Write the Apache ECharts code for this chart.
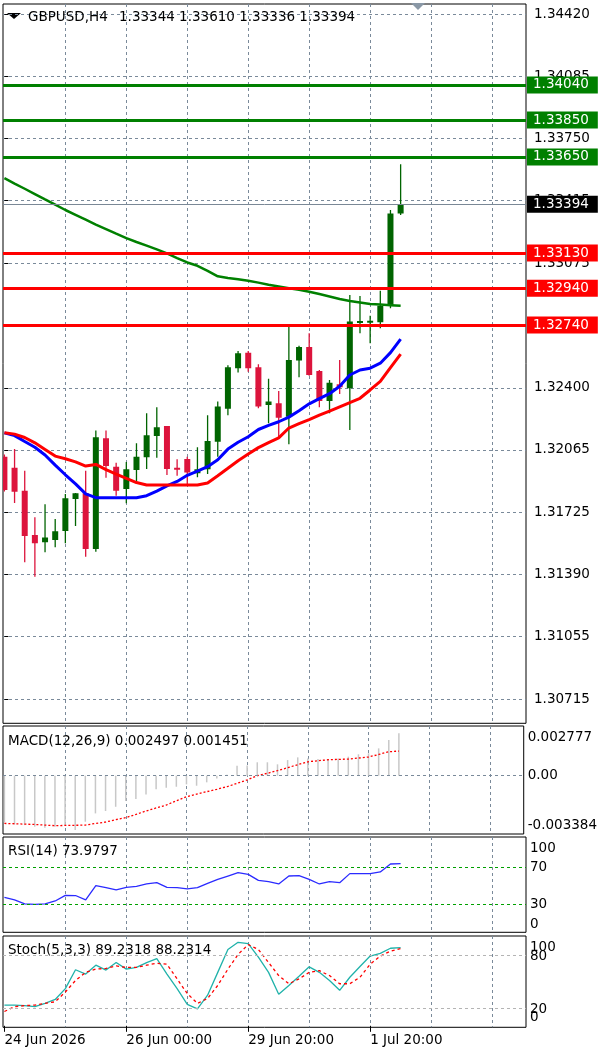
<!DOCTYPE html>
<html>
<head>
<meta charset="utf-8">
<title>GBPUSD,H4</title>
<script src="https://cdn.jsdelivr.net/npm/echarts@6.0.0/dist/echarts.min.js"></script>
<style>
html, body { margin: 0; padding: 0; background: #fff; }
#chart { width: 600px; height: 1050px; }
</style>
</head>
<body>
<div id="chart"></div>
<script>
const FONT = 'DejaVu Sans';
const FS = 13.5;

// H4 candles, one per bar index 0..39
const OPEN  = [1.32028, 1.31968, 1.31844, 1.31604, 1.31565, 1.31577, 1.31626, 1.31799, 1.31830, 1.31528,
               1.32128, 1.31974, 1.31853, 1.31956, 1.32025, 1.32140, 1.32194, 1.31968, 1.32016, 1.31938,
               1.31960, 1.32109, 1.32288, 1.32506, 1.32591, 1.32512, 1.32308, 1.32317, 1.32244, 1.32548,
               1.32622, 1.32492, 1.32329, 1.32420, 1.32398, 1.32757, 1.32760, 1.32755, 1.32845, 1.33344];
const HIGH  = [1.32040, 1.32070, 1.31952, 1.31700, 1.31770, 1.31691, 1.31826, 1.31832, 1.31952, 1.32169,
               1.32169, 1.31995, 1.31999, 1.32100, 1.32263, 1.32295, 1.32194, 1.32014, 1.32028, 1.32079,
               1.32252, 1.32326, 1.32523, 1.32600, 1.32600, 1.32528, 1.32450, 1.32383, 1.32746, 1.32629,
               1.32696, 1.32497, 1.32443, 1.32551, 1.32903, 1.32898, 1.32791, 1.32926, 1.33363, 1.33610];
const LOW   = [1.31840, 1.31777, 1.31456, 1.31378, 1.31511, 1.31538, 1.31559, 1.31653, 1.31487, 1.31514,
               1.31914, 1.31817, 1.31776, 1.31893, 1.31961, 1.32022, 1.31929, 1.31925, 1.31871, 1.31916,
               1.31934, 1.32028, 1.32252, 1.32483, 1.32488, 1.32290, 1.32209, 1.32133, 1.32095, 1.32458,
               1.32466, 1.32295, 1.32263, 1.32367, 1.32172, 1.32696, 1.32642, 1.32723, 1.32831, 1.33336];
const CLOSE = [1.31848, 1.31838, 1.31599, 1.31559, 1.31590, 1.31624, 1.31803, 1.31830, 1.31528, 1.32133,
               1.31978, 1.31844, 1.31960, 1.32028, 1.32144, 1.32187, 1.31961, 1.31958, 1.31943, 1.31960,
               1.32113, 1.32299, 1.32512, 1.32588, 1.32506, 1.32299, 1.32326, 1.32239, 1.32551, 1.32622,
               1.32470, 1.32329, 1.32428, 1.32404, 1.32759, 1.32762, 1.32764, 1.32845, 1.33344, 1.33394];

// moving averages
const MA_LONG = [1.33535, 1.33506, 1.33478, 1.33449, 1.33420, 1.33392, 1.33363, 1.33337, 1.33311, 1.33284,
                 1.33260, 1.33235, 1.33211, 1.33190, 1.33170, 1.33150, 1.33128, 1.33103, 1.33079, 1.33061,
                 1.33034, 1.33004, 1.32995, 1.32988, 1.32980, 1.32970, 1.32958, 1.32949, 1.32940, 1.32931,
                 1.32921, 1.32908, 1.32895, 1.32881, 1.32870, 1.32862, 1.32854, 1.32851, 1.32848, 1.32845];
const MA_FAST = [1.32157, 1.32142, 1.32110, 1.32079, 1.32037, 1.31982, 1.31930, 1.31881, 1.31827, 1.31806,
                 1.31806, 1.31806, 1.31806, 1.31806, 1.31817, 1.31842, 1.31870, 1.31894, 1.31927, 1.31950,
                 1.31974, 1.32011, 1.32069, 1.32106, 1.32136, 1.32175, 1.32197, 1.32217, 1.32242, 1.32277,
                 1.32314, 1.32342, 1.32369, 1.32409, 1.32470, 1.32497, 1.32507, 1.32534, 1.32591, 1.32664];
const MA_SLOW = [1.32158, 1.32150, 1.32132, 1.32103, 1.32067, 1.32031, 1.32017, 1.32000, 1.31977, 1.31986,
                 1.31958, 1.31934, 1.31911, 1.31888, 1.31875, 1.31875, 1.31875, 1.31875, 1.31875, 1.31875,
                 1.31886, 1.31925, 1.31965, 1.32006, 1.32042, 1.32077, 1.32104, 1.32130, 1.32183, 1.32207,
                 1.32229, 1.32253, 1.32275, 1.32298, 1.32321, 1.32344, 1.32389, 1.32435, 1.32510, 1.32583];

// horizontal levels
const LEVELS_GREEN = [1.34040, 1.33850, 1.33650];
const LEVELS_RED = [1.33130, 1.32940, 1.32740];
const BID = 1.33394;

// MACD(12,26,9)
const MACD_MAIN = [-0.00275, -0.00287, -0.00291, -0.00300, -0.00306, -0.00300, -0.00291, -0.00320, -0.00271, -0.00222,
                   -0.00208, -0.00183, -0.00149, -0.00137, -0.00110, -0.00080, -0.00071, -0.00065, -0.00051, -0.00059,
                   -0.00039, -0.00016, 0.00006, 0.00059, 0.00060, 0.00079, 0.00079, 0.00067, 0.00092, 0.00108,
                   0.00102, 0.00098, 0.00098, 0.00102, 0.00112, 0.00126, 0.00132, 0.00161, 0.00210, 0.002497];
const MACD_SIGNAL = [-0.00281, -0.00283, -0.00285, -0.00287, -0.00291, -0.00294, -0.00293, -0.00292, -0.00291, -0.00281,
                     -0.00273, -0.00259, -0.00247, -0.00228, -0.00208, -0.00190, -0.00173, -0.00148, -0.00124, -0.00109,
                     -0.00094, -0.00080, -0.00065, -0.00045, -0.00025, 0.00000, 0.00014, 0.00030, 0.00047, 0.00065,
                     0.00082, 0.00088, 0.00094, 0.00096, 0.00098, 0.00104, 0.00110, 0.00125, 0.00141, 0.001451];

// RSI(14)
const RSI = [37.6, 34.7, 30.4, 30.0, 30.4, 33.6, 39.7, 39.5, 34.7, 50.2,
             48.0, 45.5, 48.4, 49.5, 52.0, 53.4, 48.4, 48.0, 46.6, 48.0,
             52.7, 57.0, 60.6, 64.2, 62.4, 55.9, 54.5, 52.0, 60.6, 61.0,
             57.0, 52.0, 54.5, 53.4, 63.2, 63.2, 63.2, 65.0, 73.6, 73.98];

// Stoch(5,3,3)
const STOCH_MAIN = [23.7, 23.7, 23.0, 21.9, 25.6, 30.1, 42.4, 64.0, 59.1, 69.2,
                    63.6, 72.2, 64.7, 66.6, 72.2, 76.6, 59.1, 42.4, 24.5, 19.3,
                    34.9, 61.0, 87.1, 95.3, 93.8, 78.5, 61.0, 36.0, 46.1, 56.5,
                    67.3, 61.0, 51.7, 40.5, 55.4, 67.7, 79.6, 82.6, 88.5, 89.23];
const STOCH_SIGNAL = [16.3, 21.9, 23.0, 23.7, 25.6, 27.4, 38.6, 51.7, 61.0, 64.7,
                      65.5, 68.4, 66.6, 66.6, 69.2, 71.4, 70.3, 53.5, 36.8, 25.6,
                      31.2, 46.1, 64.7, 81.5, 92.7, 87.1, 72.2, 57.3, 48.0, 53.5,
                      61.0, 62.9, 57.3, 48.0, 48.0, 55.4, 70.3, 79.6, 85.2, 88.23];

// axis ticks and labels
const PRICE_TICKS = [1.30715, 1.31055, 1.31390, 1.31725, 1.32065, 1.32400, 1.32740, 1.33075, 1.33415, 1.33750, 1.34085, 1.34420];
const DAY_LINES = [6, 12, 18, 24, 30, 36, 42, 48];
const DATE_TICKS = [0, 12, 24, 36];
const DATE_LABELS = ['24 Jun 2026', '26 Jun 00:00', '29 Jun 20:00', '1 Jul 20:00'];
const MACD_LABEL_POS = [0.002238, 0, -0.002921];
const MACD_LABEL_TEXT = ['0.002777', '0.00', '-0.003384'];
const RSI_LABEL_POS = [90.5, 70, 30, 8.7];
const RSI_LABEL_TEXT = ['100', '70', '30', '0'];
// stoch labels overlap in pairs, so they sit on two axes
const STOCH_LABEL_POS_A = [89.6, 19];
const STOCH_LABEL_TEXT_A = ['100', '20'];
const STOCH_LABEL_POS_B = [79, 10];
const STOCH_LABEL_TEXT_B = ['80', '0'];

const BULL = '#006400';
const BEAR = '#dc143c';
const X_MIN = -0.138;
const X_MAX = 51.34;

const chart = echarts.init(document.getElementById('chart'), null, { renderer: 'canvas' });

const txt = { fontFamily: FONT, fontSize: FS, color: '#000' };
const gridLine = { show: true, lineStyle: { color: '#7a8a9a', type: [3, 3], width: 1 } };

const candles = OPEN.map((o, i) => [i, o, CLOSE[i], LOW[i], HIGH[i]]);
const pairs = arr => arr.map((v, i) => [i, v]);
const pick = (pos, text) => v => {
    const j = pos.findIndex(p => Math.abs(p - v) < 1e-9);
    return j < 0 ? '' : text[j];
};

function renderCandle(params, api) {
    const i = api.value(0);
    const o = api.value(1), c = api.value(2), l = api.value(3), h = api.value(4);
    const pO = api.coord([i, o]);
    const pC = api.coord([i, c]);
    const pL = api.coord([i, l]);
    const pH = api.coord([i, h]);
    const color = c >= o ? BULL : BEAR;
    const w = 6;
    const top = Math.min(pO[1], pC[1]);
    const bh = Math.max(Math.abs(pO[1] - pC[1]), 2);
    return {
        type: 'group',
        children: [
            { type: 'line', shape: { x1: pH[0], y1: pH[1], x2: pL[0], y2: pL[1] }, style: { stroke: color, lineWidth: 1.3 } },
            { type: 'rect', shape: { x: pO[0] - w / 2, y: top, width: w, height: bh }, style: { fill: color } }
        ]
    };
}

function renderHist(params, api) {
    const i = api.value(0);
    const p0 = api.coord([i, 0]);
    const p1 = api.coord([i, api.value(1)]);
    return { type: 'line', shape: { x1: p0[0], y1: p0[1], x2: p1[0], y2: p1[1] }, style: { stroke: '#c8c8c8', lineWidth: 1.5 } };
}

function boxLabel(bg) {
    return {
        show: true, position: 'end', distance: 1,
        formatter: p => Number(p.value).toFixed(5),
        color: '#fff', backgroundColor: bg,
        padding: [2, 9, 1, 6], lineHeight: 14,
        fontFamily: FONT, fontSize: FS
    };
}

function xAxisFor(g) {
    return {
        gridIndex: g, type: 'value', min: X_MIN, max: X_MAX,
        axisLine: { show: false },
        axisTick: { show: false, customValues: DAY_LINES },
        axisLabel: { show: false },
        splitLine: gridLine
    };
}

function sideAxis(g, min, max, pos, text) {
    return {
        gridIndex: g, type: 'value', position: 'right', min: min, max: max,
        axisLine: { show: false },
        axisTick: { show: false, customValues: pos },
        axisLabel: Object.assign({ customValues: pos, formatter: pick(pos, text), margin: 4, hideOverlap: false }, txt),
        splitLine: { show: false }
    };
}

const titleStyle = Object.assign({ fontWeight: 'normal', lineHeight: 14 }, txt);

const option = {
    animation: false,
    backgroundColor: '#fff',
    title: [
        { text: 'GBPUSD,H4', left: 28, top: 10, padding: 0, textStyle: titleStyle },
        { text: '1.33344 1.33610 1.33336 1.33394', left: 119, top: 10, padding: 0, textStyle: titleStyle },
        { text: 'MACD(12,26,9) 0.002497 0.001451', left: 8, top: 734, padding: 0, textStyle: titleStyle },
        { text: 'RSI(14) 73.9797', left: 8, top: 844, padding: 0, textStyle: titleStyle },
        { text: 'Stoch(5,3,3) 89.2318 88.2314', left: 8, top: 943, padding: 0, textStyle: titleStyle }
    ],
    graphic: [
        { type: 'polygon', shape: { points: [[7, 13], [21, 13], [14, 19]] }, style: { fill: '#000' } },
        { type: 'polygon', shape: { points: [[411, 3], [425, 3], [418, 10]] }, style: { fill: '#8a98a6' } }
    ],
    grid: [
        { left: 3, top: 4, width: 523, height: 719.3, show: true, borderColor: '#000', borderWidth: 1 },
        { left: 3, top: 726, width: 523, height: 108, show: true, borderColor: '#000', borderWidth: 1 },
        { left: 3, top: 837, width: 523, height: 95.3, show: true, borderColor: '#000', borderWidth: 1 },
        { left: 3, top: 936, width: 523, height: 91.3, show: true, borderColor: '#000', borderWidth: 1 }
    ],
    xAxis: [
        xAxisFor(0), xAxisFor(1), xAxisFor(2), xAxisFor(3),
        {
            gridIndex: 3, type: 'value', min: X_MIN, max: X_MAX, position: 'bottom',
            axisLine: { show: false },
            axisTick: { show: true, length: 6, customValues: DATE_TICKS, lineStyle: { color: '#000' } },
            axisLabel: Object.assign({ customValues: DATE_TICKS, formatter: pick(DATE_TICKS, DATE_LABELS), align: 'left', margin: 6 }, txt),
            splitLine: { show: false }
        }
    ],
    yAxis: [
        {
            gridIndex: 0, type: 'value', position: 'right', min: 1.305850, max: 1.344779,
            axisLine: { show: false },
            axisTick: { show: true, length: 4, customValues: PRICE_TICKS, lineStyle: { color: '#000' } },
            axisLabel: Object.assign({ customValues: PRICE_TICKS, formatter: v => v.toFixed(5), margin: 8 }, txt),
            splitLine: gridLine
        },
        sideAxis(1, -0.003433, 0.002927, MACD_LABEL_POS, MACD_LABEL_TEXT),
        sideAxis(2, -0.27, 102.8, RSI_LABEL_POS, RSI_LABEL_TEXT),
        sideAxis(3, -1.7, 102.5, STOCH_LABEL_POS_A, STOCH_LABEL_TEXT_A),
        sideAxis(3, -1.7, 102.5, STOCH_LABEL_POS_B, STOCH_LABEL_TEXT_B)
    ],
    series: [
        {
            name: 'candles', type: 'custom', xAxisIndex: 0, yAxisIndex: 0,
            renderItem: renderCandle, data: candles, clip: true, z: 2,
            encode: { x: 0, y: [1, 2, 3, 4] }
        },
        {
            name: 'ma long', type: 'line', xAxisIndex: 0, yAxisIndex: 0, data: pairs(MA_LONG),
            showSymbol: false, symbol: 'none', z: 3,
            lineStyle: { color: '#008000', width: 2.5 }
        },
        {
            name: 'ma fast', type: 'line', xAxisIndex: 0, yAxisIndex: 0, data: pairs(MA_FAST),
            showSymbol: false, symbol: 'none', z: 3,
            lineStyle: { color: '#0000ff', width: 3 }
        },
        {
            name: 'ma slow', type: 'line', xAxisIndex: 0, yAxisIndex: 0, data: pairs(MA_SLOW),
            showSymbol: false, symbol: 'none', z: 3,
            lineStyle: { color: '#ff0000', width: 3 }
        },
        {
            name: 'levels', type: 'line', xAxisIndex: 0, yAxisIndex: 0, data: [[39, BID]],
            showSymbol: false, symbol: 'none', z: 4, lineStyle: { opacity: 0 },
            markLine: {
                silent: true, symbol: ['none', 'none'], animation: false, precision: 5,
                data: [].concat(
                    LEVELS_GREEN.map(v => ({ yAxis: v, lineStyle: { color: '#008000', width: 3, type: 'solid' }, label: boxLabel('#008000') })),
                    LEVELS_RED.map(v => ({ yAxis: v, lineStyle: { color: '#ff0000', width: 3, type: 'solid' }, label: boxLabel('#ff0000') })),
                    [{ yAxis: BID, lineStyle: { color: '#7a8896', width: 1, type: 'solid' }, label: boxLabel('#000') }]
                )
            }
        },
        {
            name: 'macd', type: 'custom', xAxisIndex: 1, yAxisIndex: 1,
            renderItem: renderHist, data: pairs(MACD_MAIN), z: 2,
            encode: { x: 0, y: 1 }
        },
        {
            name: 'macd signal', type: 'line', xAxisIndex: 1, yAxisIndex: 1, data: pairs(MACD_SIGNAL),
            showSymbol: false, symbol: 'none', z: 3,
            lineStyle: { color: '#ff0000', width: 1.3, type: [2, 2] },
            markLine: {
                silent: true, symbol: ['none', 'none'], label: { show: false }, precision: 6,
                data: [{ yAxis: 0 }],
                lineStyle: { color: '#7a8a9a', type: [3, 3], width: 1 }
            }
        },
        {
            name: 'rsi', type: 'line', xAxisIndex: 2, yAxisIndex: 2, data: pairs(RSI),
            showSymbol: false, symbol: 'none', z: 3,
            lineStyle: { color: '#2b2bff', width: 1.3 },
            markLine: {
                silent: true, symbol: ['none', 'none'], label: { show: false },
                data: [{ yAxis: 70 }, { yAxis: 30 }],
                lineStyle: { color: '#00a000', type: [3, 3], width: 1 }
            }
        },
        {
            name: 'stoch', type: 'line', xAxisIndex: 3, yAxisIndex: 3, data: pairs(STOCH_MAIN),
            showSymbol: false, symbol: 'none', z: 3,
            lineStyle: { color: '#20b2aa', width: 1.3 },
            markLine: {
                silent: true, symbol: ['none', 'none'], label: { show: false },
                data: [{ yAxis: 80 }, { yAxis: 20 }],
                lineStyle: { color: '#b4b4b4', type: [3, 3], width: 1 }
            }
        },
        {
            name: 'stoch signal', type: 'line', xAxisIndex: 3, yAxisIndex: 3, data: pairs(STOCH_SIGNAL),
            showSymbol: false, symbol: 'none', z: 3,
            lineStyle: { color: '#ff0000', width: 1.3, type: [3, 3] }
        }
    ]
};

chart.setOption(option);
</script>
</body>
</html>
